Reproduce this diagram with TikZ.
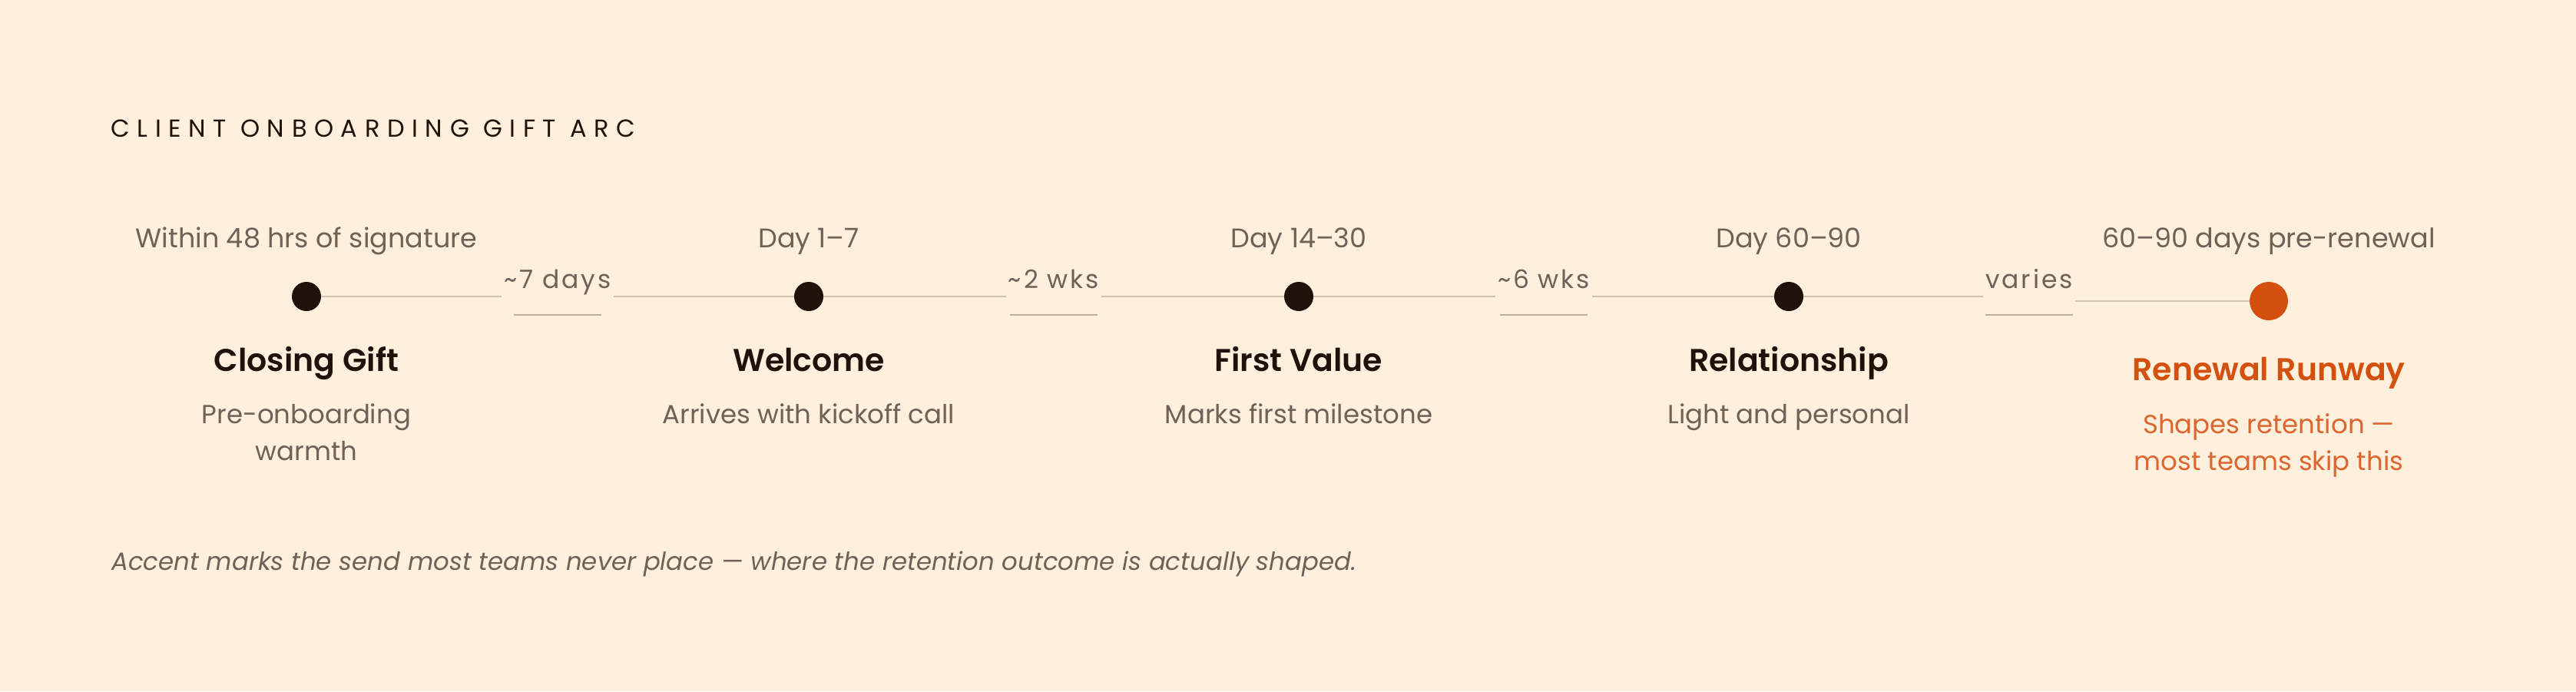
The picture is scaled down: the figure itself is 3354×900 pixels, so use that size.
\documentclass[tikz,border=0pt]{standalone}
\usepackage{fontspec}
\setmainfont{Poppins}[BoldFont={Poppins SemiBold}]
\newfontfamily\capsfont[LetterSpace=30]{Poppins}
\newfontfamily\gapfont[LetterSpace=9]{Poppins}
\usetikzlibrary{positioning}
\definecolor{paper}{HTML}{FEF0DC}
\definecolor{ink}{HTML}{1E120B}
\definecolor{muted}{HTML}{6E6157}
\definecolor{rulecol}{HTML}{CFC2B1}
\definecolor{undercol}{HTML}{BDAF9E}
\definecolor{accent}{HTML}{D4500E}
\definecolor{accentsoft}{HTML}{DD6530}

\begin{document}
\begin{tikzpicture}[x=0.5pt, y=-0.5pt,
    dot/.style = {circle, fill=ink, minimum size=19pt, inner sep=0pt},
    key/.style = {circle, fill=accent, minimum size=25pt, inner sep=0pt},
    head/.style = {anchor=base west, inner sep=0pt, text=ink, font=\capsfont\fontsize{16}{18}\selectfont},
    when/.style = {anchor=base, inner sep=0pt, text=muted, font=\fontsize{17.5}{20}\selectfont},
    stage/.style = {anchor=base, inner sep=0pt, text=ink, font=\fontsize{20.5}{24}\selectfont\bfseries},
    blurb/.style = {anchor=base, inner sep=0pt, align=center, text=muted, font=\fontsize{17}{24}\selectfont},
    gap/.style = {anchor=base, inner xsep=1.5pt, inner ysep=0pt, text=muted, font=\gapfont\fontsize{16.5}{20}\selectfont},
    note/.style = {anchor=base west, inner sep=0pt, text=muted, font=\fontsize{16.2}{20}\selectfont\itshape},
    link/.style = {draw=rulecol, line width=1.1pt},
    under/.style = {draw=undercol, line width=1.2pt}]
    \fill[paper] (0,0) rectangle (3354,900);
    \useasboundingbox (0,0) rectangle (3354,900);

    \node[head] (title) at (144,178) {CLIENT ONBOARDING GIFT ARC};

    % stops
    \node[dot] (d1) at (399,386) {};
    \node[dot] (d2) at (1053,386) {};
    \node[dot] (d3) at (1691,386) {};
    \node[dot] (d4) at (2329,386) {};
    \node[key] (d5) at (2954,392) {};

    % timing above
    \node[when] (t1) at (399,322) {Within 48 hrs of signature};
    \node[when] (t2) at (1053,322) {Day 1–7};
    \node[when] (t3) at (1691,322) {Day 14–30};
    \node[when] (t4) at (2329,322) {Day 60–90};
    \node[when] (t5) at (2954,322) {60–90 days pre-renewal};

    % names and notes below (multi-line nodes sit on their last baseline)
    \node[stage] (s1) at (399,483.5) {Closing Gift};
    \node[stage] (s2) at (1053,483.5) {Welcome};
    \node[stage] (s3) at (1691,483.5) {First Value};
    \node[stage] (s4) at (2329,483.5) {Relationship};
    \node[stage, text=accent] (s5) at (2954,495) {Renewal Runway};
    \node[blurb] (b1) at (399,599.5) {Pre-onboarding\\warmth};
    \node[blurb] (b2) at (1053,551.5) {Arrives with kickoff call};
    \node[blurb] (b3) at (1691,551.5) {Marks first milestone};
    \node[blurb] (b4) at (2329,551.5) {Light and personal};
    \node[blurb, text=accentsoft] (b5) at (2954,612) {Shapes retention —\\most teams skip this};

    % gaps between stops
    \node[gap] (g1) at (726,375.5) {\textasciitilde7 days};
    \node[gap] (g2) at (1372,375.5) {\textasciitilde2 wks};
    \node[gap] (g3) at (2010,375.5) {\textasciitilde6 wks};
    \node[gap] (g4) at (2642,375.5) {varies};

    \draw[link] (d1) -- (d1 -| g1.west);
    \draw[link] (g1.east |- d2) -- (d2);
    \draw[link] (d2) -- (d2 -| g2.west);
    \draw[link] (g2.east |- d3) -- (d3);
    \draw[link] (d3) -- (d3 -| g3.west);
    \draw[link] (g3.east |- d4) -- (d4);
    \draw[link] (d4) -- (d4 -| g4.west);
    \draw[link] (g4.east |- d5) -- (d5);

    \draw[under] (g1.center |- 0,410) +(-57,0) -- +(57,0);
    \draw[under] (g2.center |- 0,410) +(-57,0) -- +(57,0);
    \draw[under] (g3.center |- 0,410) +(-57,0) -- +(57,0);
    \draw[under] (g4.center |- 0,410) +(-57,0) -- +(57,0);

    \node[note] (foot) at (145,742) {Accent marks the send most teams never place — where the retention outcome is actually shaped.};
\end{tikzpicture}
\end{document}
